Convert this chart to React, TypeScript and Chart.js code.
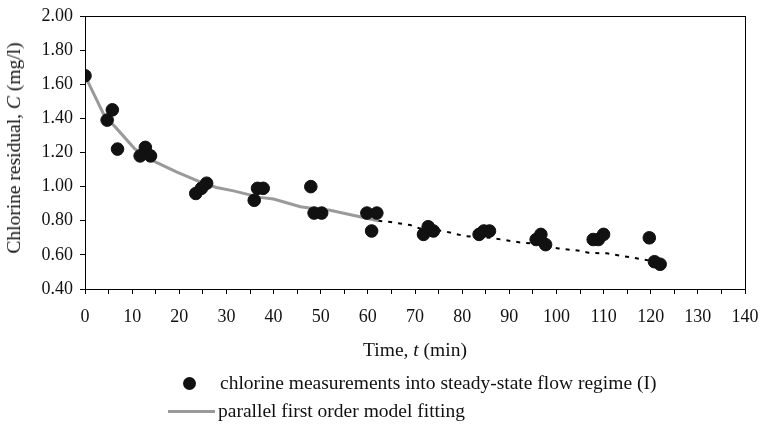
import React, { useEffect, useRef } from "react";
import { Chart, registerables } from "chart.js";

Chart.register(...registerables);

// Measured chlorine residual (steady-state flow regime I)
const measTime = [0, 4.7, 5.8, 6.9, 11.7, 12.8, 13.9, 23.5, 24.7, 25.8, 35.9, 36.6, 37.8, 47.9, 48.6, 50.2, 59.8, 60.8, 61.9, 71.8, 72.8, 73.9, 83.6, 84.6, 85.8, 95.7, 96.7, 97.7, 107.8, 108.9, 110, 119.7, 120.8, 122];
const measC = [1.65, 1.39, 1.45, 1.22, 1.18, 1.23, 1.18, 0.96, 0.99, 1.02, 0.92, 0.99, 0.99, 1.0, 0.845, 0.845, 0.845, 0.74, 0.845, 0.72, 0.765, 0.74, 0.72, 0.74, 0.74, 0.69, 0.72, 0.66, 0.69, 0.69, 0.72, 0.7, 0.56, 0.545];

// Parallel first order model fit (solid part)
const modelTime = [0, 4.2, 6.4, 10.6, 13.8, 19.4, 25, 27.9, 31.5, 37.1, 40, 45.7, 48.4, 52, 58.3, 62.2];
const modelC = [1.65, 1.41, 1.35, 1.22, 1.16, 1.087, 1.02, 0.995, 0.975, 0.937, 0.927, 0.882, 0.872, 0.862, 0.823, 0.8];

// Model extrapolation (dashed part)
const extTime = [62.2, 64.4, 69, 71, 76, 80.6, 86, 92.3, 95.5, 100.4, 105, 106.8, 110.7, 119.1, 121];
const extC = [0.8, 0.794, 0.775, 0.755, 0.74, 0.71, 0.7, 0.673, 0.665, 0.638, 0.624, 0.612, 0.609, 0.57, 0.565];

const xMin = 0, xMax = 140, xStep = 5;
const yMin = 0.4, yMax = 2.0, yStep = 0.2;

const seriesLabels = [
  "chlorine measurements into steady-state flow regime (I)",
  "parallel first order model fitting",
];

const FONT = "'Liberation Serif', 'Times New Roman', serif";
const TEXT = "#111";

const zip = (xs: number[], ys: number[]) => xs.map((x, i) => ({ x, y: ys[i] }));

const boxPlugin = {
  id: "boxPlugin",
  afterDraw(chart: any) {
    const { ctx, chartArea } = chart;
    ctx.save();
    ctx.strokeStyle = "#000";
    ctx.lineWidth = 1;
    ctx.strokeRect(
      Math.round(chartArea.left) + 0.5,
      Math.round(chartArea.top) + 0.5,
      Math.round(chartArea.right - chartArea.left),
      Math.round(chartArea.bottom - chartArea.top)
    );
    ctx.restore();
  },
};

const zeroPad = (s: any) => {
  s.paddingLeft = 0;
  s.paddingRight = 0;
  s.paddingTop = 0;
  s.paddingBottom = 0;
};

export default function App() {
  const ref = useRef<HTMLCanvasElement | null>(null);

  useEffect(() => {
    if (!ref.current) return;
    const chart = new Chart(ref.current, {
      type: "scatter",
      data: {
        datasets: [
          {
            label: seriesLabels[0],
            data: zip(measTime, measC),
            backgroundColor: "#111",
            borderColor: "#111",
            pointRadius: 6.3,
            pointHoverRadius: 6.3,
            showLine: false,
          },
          {
            label: seriesLabels[1],
            data: zip(modelTime, modelC),
            borderColor: "#9a9a9a",
            borderWidth: 3,
            pointRadius: 0,
            showLine: true,
            tension: 0,
          },
          {
            label: "extrapolation",
            data: zip(extTime, extC),
            borderColor: "#000",
            borderWidth: 2,
            borderDash: [4, 6],
            pointRadius: 0,
            showLine: true,
            tension: 0,
          },
        ],
      },
      options: {
        animation: false,
        responsive: false,
        maintainAspectRatio: false,
        layout: { padding: { left: 0, top: 16, right: 17, bottom: 0 } },
        plugins: {
          legend: { display: false },
          tooltip: { enabled: false },
        },
        scales: {
          x: {
            type: "linear",
            min: xMin,
            max: xMax,
            afterFit: (s: any) => { s.height = 135; zeroPad(s); },
            ticks: {
              stepSize: xStep,
              autoSkip: false,
              maxRotation: 0,
              padding: 12,
              color: TEXT,
              font: { family: FONT, size: 18 },
              callback: (v: any) => (Number(v) % 10 === 0 ? String(v) : ""),
            },
            grid: {
              display: true,
              drawOnChartArea: false,
              drawTicks: true,
              tickLength: 5,
              color: "#000",
            },
            border: { display: true, color: "#000", width: 1 },
          },
          y: {
            type: "linear",
            min: yMin,
            max: yMax,
            afterFit: (s: any) => { s.width = 85; zeroPad(s); },
            ticks: {
              stepSize: yStep,
              padding: 7,
              color: TEXT,
              font: { family: FONT, size: 18 },
              callback: (v: any) => Number(v).toFixed(2),
            },
            grid: {
              display: true,
              drawOnChartArea: false,
              drawTicks: true,
              tickLength: 5,
              color: "#000",
            },
            border: { display: true, color: "#000", width: 1 },
          },
        },
      },
      plugins: [boxPlugin],
    });
    return () => chart.destroy();
  }, []);

  const textStyle: React.CSSProperties = {
    position: "absolute",
    fontFamily: FONT,
    fontSize: 19.5,
    color: TEXT,
    whiteSpace: "nowrap",
    lineHeight: "22px",
  };

  return (
    <div style={{ position: "absolute", left: 0, top: 0, width: 762, height: 424, background: "#fff", overflow: "hidden" }}>
      <canvas ref={ref} width={762} height={424} style={{ position: "absolute", left: 0, top: 0, width: 762, height: 424 }} />
      <div
        style={{
          ...textStyle,
          left: 14,
          top: 148,
          transform: "translate(-50%, -50%) rotate(-90deg)",
        }}
      >
        Chlorine residual, <i>C</i> (mg/l)
      </div>
      <div style={{ ...textStyle, left: 415, top: 350, transform: "translate(-50%, -50%)" }}>
        Time, <i>t</i> (min)
      </div>
      <div
        style={{
          position: "absolute",
          left: 182.5,
          top: 376.5,
          width: 13,
          height: 13,
          borderRadius: "50%",
          background: "#111",
        }}
      />
      <div style={{ ...textStyle, left: 220, top: 383, transform: "translateY(-50%)" }}>{seriesLabels[0]}</div>
      <div style={{ position: "absolute", left: 168, top: 410, width: 47, height: 3, background: "#9a9a9a" }} />
      <div style={{ ...textStyle, left: 218, top: 411, transform: "translateY(-50%)" }}>{seriesLabels[1]}</div>
    </div>
  );
}
